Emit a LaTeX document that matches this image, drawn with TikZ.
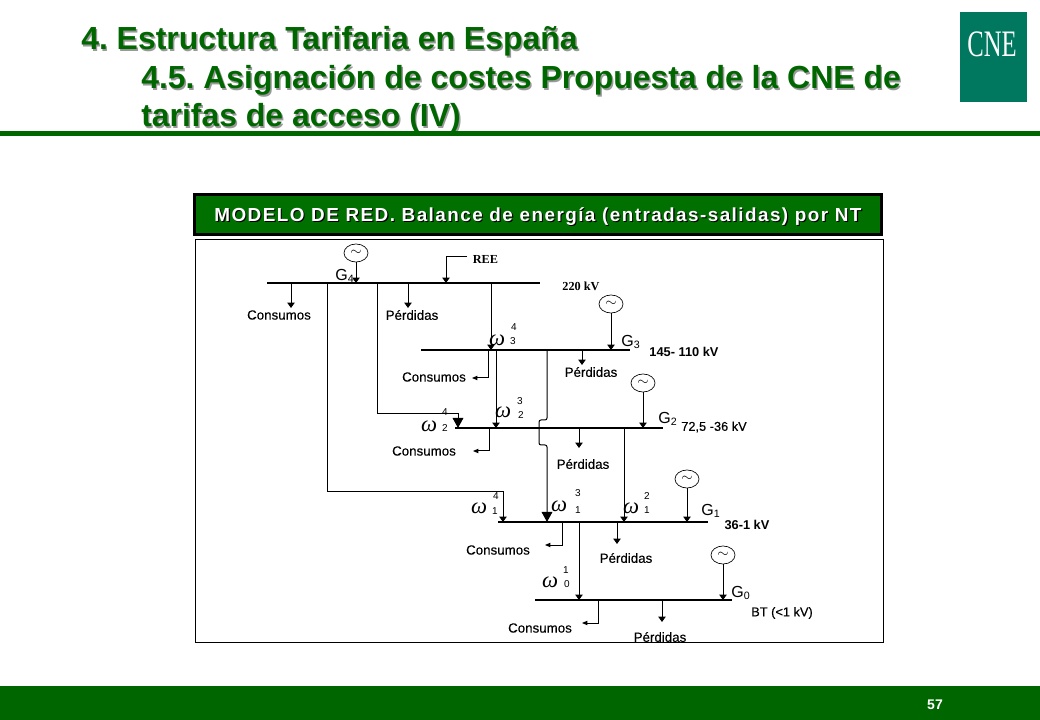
\documentclass[tikz,border=0pt]{standalone}
\usepackage{fontspec}
\usepackage{xcolor}
\usepackage{tikz}
\usetikzlibrary{calc,arrows.meta,shapes.geometric}
\setmainfont{Liberation Sans}
\newfontfamily\serifface{Liberation Serif}
\newfontfamily\labface[FakeBold=0.25]{Liberation Sans}
\newfontfamily\headface[LetterSpace=7.6]{Liberation Sans Bold}
\definecolor{cnegreen}{RGB}{0,102,0}
\definecolor{headgreen}{RGB}{0,112,0}
\definecolor{logoteal}{RGB}{0,120,96}
\newcommand{\fs}[1]{\fontsize{#1}{#1}\selectfont}
\newcommand{\shadowed}[3]{\leavevmode\rlap{\kern#2\raisebox{-#2}{\textcolor{#1}{#3}}}#3}
\frenchspacing
\tikzset{
  busline/.style={line width=0.85pt},
  wire/.style={line width=0.75pt},
  tap/.style={wire,-{Triangle[width=5.5pt,length=4pt]}},
  bigtap/.style={wire,-{Triangle[width=8pt,length=7.5pt]}},
  sidetap/.style={wire,-{Triangle[width=3.2pt,length=4pt]}},
  gen/.style={draw,ellipse,line width=0.5pt,minimum width=18pt,minimum height=13.5pt,inner sep=0pt,font=\fs{11}},
  lab/.style={inner sep=0pt,font=\fs{10}\labface},
  kv/.style={inner sep=0pt,font=\fs{9.6}\bfseries},
  ree/.style={inner sep=0pt,font=\fs{9.2}\serifface\bfseries},
  glab/.style={inner sep=0pt,font=\fs{12}},
  omg/.style={inner sep=0pt,font=\fs{17}\serifface\itshape},
  idx/.style={inner sep=0pt,font=\fs{7.5}},
  titleline/.style={inner sep=0pt,anchor=base west,text=cnegreen,font=\fs{23.95}\bfseries}
}
\begin{document}
\begin{tikzpicture}[x=0.75pt,y=-0.75pt]
  \useasboundingbox (0,0) rectangle (1040,720);
  % title and bands
  \node[titleline] (tit1) at (81,50) {\shadowed{black!40}{1.1pt}{4. Estructura Tarifaria en España}};
  \node[titleline] (tit2) at (141,89) {\shadowed{black!40}{1.1pt}{4.5. Asignación de costes Propuesta de la CNE de}};
  \node[titleline] (tit3) at (141,127) {\shadowed{black!40}{1.1pt}{tarifas de acceso (IV)}};
  \fill[cnegreen] (0,131) rectangle (1040,136);
  \fill[cnegreen] (0,686) rectangle (1040,720);
  \node[inner sep=0pt,text=white,font=\fs{10.5}\bfseries] (pagenum) at (935,705) {57};
  \fill[logoteal] (960,12) rectangle (1027,102);
  \node[inner sep=0pt,text=white,xscale=0.66,font=\fs{28}\serifface] (logo) at (992,44) {CNE};
  % header and frame
  \draw[line width=2pt,fill=headgreen] (194.3,194.3) rectangle (881.7,234.7);
  \node[inner sep=0pt,text=white,font=\fs{14.17}\headface] (head) at (538,217) {\shadowed{black}{0.8pt}{MODELO DE RED. Balance de energía (entradas-salidas) por NT}};
  \draw[line width=0.75pt] (195,240) rectangle (883,642);
  % bus bars
  \foreach \n/\xa/\xb/\y in {4/267/540/283,3/421/630/350,2/455/663/428,1/498/708/522,0/535/732/600}{
    \coordinate (b\n w) at (\xa,\y);
    \coordinate (b\n e) at (\xb,\y);
    \draw[busline] (b\n w) -- (b\n e);
  }
  % generators
  \foreach \n/\x/\y/\u/\v in {4/356/253/345/276,3/611/304/631/342,2/643/383/668/419,1/687/479/711/511,0/723/555/741/593}{
    \node[gen] (g\n) at (\x,\y) {$\sim$};
    \draw[tap] (g\n) -- (g\n |- b\n w);
    \node[glab] (gl\n) at (\u,\v) {G\textsubscript{\n}};
  }
  % voltage levels
  \node[ree] (ree) at (485.5,259) {REE};
  \node[ree] (kv4) at (581,286) {220 kV};
  \node[kv] (kv3) at (684,352) {145- 110 kV};
  \node[lab,font=\fs{9.6}\labface] (kv2) at (714,427) {72,5 -36 kV};
  \node[kv] (kv1) at (747,525) {36-1 kV};
  \node[lab,font=\fs{9.6}\labface] (kv0) at (782,613) {BT (<1 kV)};
  \coordinate (reeL) at (467,257);
  \coordinate (reeC) at (446,257);
  \draw[tap] (reeL) -- (reeC) -- (reeC |- b4w);
  % consumos
  \foreach \n/\x/\y in {4/279/315,3/434/377,2/424/451,1/498/550,0/540/628}{
    \node[lab] (c\n) at (\x,\y) {Consumos};
  }
  \coordinate (c4t) at (291,308);
  \draw[tap] (c4t |- b4w) -- (c4t);
  \foreach \n/\x/\y/\z in {3/488/378/472,2/489/451/473,1/562/545/545,0/598/623/582}{
    \coordinate (c\n a) at (\x,\y);
    \coordinate (c\n z) at (\z,\y);
    \draw[sidetap] (c\n a |- b\n w) -- (c\n a) -- (c\n z);
  }
  % perdidas
  \foreach \n/\x/\y/\u/\v in {4/408/308/412/315,3/582/365/591/372,2/579/448/583/464,1/617/544/626/558,0/662/622/660/637}{
    \node[lab] (p\n) at (\u,\v) {Pérdidas};
    \coordinate (p\n t) at (\x,\y);
    \draw[tap] (p\n t |- b\n w) -- (p\n t);
  }
  % flows between levels
  \coordinate (f43) at (491,283);
  \draw[tap] (f43) -- (f43 |- b3w);
  \coordinate (f32) at (496,350);
  \draw[tap] (f32) -- (f32 |- b2w);
  \coordinate (f21) at (624,428);
  \draw[tap] (f21) -- (f21 |- b1w);
  \coordinate (f10) at (579,522);
  \draw[tap] (f10) -- (f10 |- b0w);
  \coordinate (f42a) at (377,283);
  \coordinate (f42b) at (458,414);
  \draw[bigtap] (f42a) |- (f42b) -- (f42b |- b2w);
  \coordinate (f41a) at (327,283);
  \coordinate (f41b) at (503,492);
  \draw[tap] (f41a) |- (f41b) -- (f41b |- b1w);
  \coordinate (f31a) at (547,350);
  \coordinate (f31b) at (547,420);
  \coordinate (f31c) at (539,420);
  \coordinate (f31d) at (539,445);
  \coordinate (f31e) at (547,445);
  \draw[bigtap,rounded corners=1.5pt] (f31a) -- (f31b) -- (f31c) -- (f31d) -- (f31e) -- (f31e |- b1w);
  % transfer symbols
  \foreach \m/\x/\y/\p/\q/\ux/\uy/\dx/\dy in {
    43/497/340/4/3/514/327/513/341,
    32/503/412/3/2/520/401/521/415,
    42/429/426/4/2/445/412/445/428,
    41/479/508/4/1/496/496/495/511,
    31/559/506/3/1/578/493/578/510,
    21/631/508/2/1/647/496/647/510,
    10/550/582/1/0/566/570/567/584}{
    \node[omg] (w\m) at (\x,\y) {ω};
    \node[idx] (u\m) at (\ux,\uy) {\p};
    \node[idx] (d\m) at (\dx,\dy) {\q};
  }
\end{tikzpicture}
\end{document}
